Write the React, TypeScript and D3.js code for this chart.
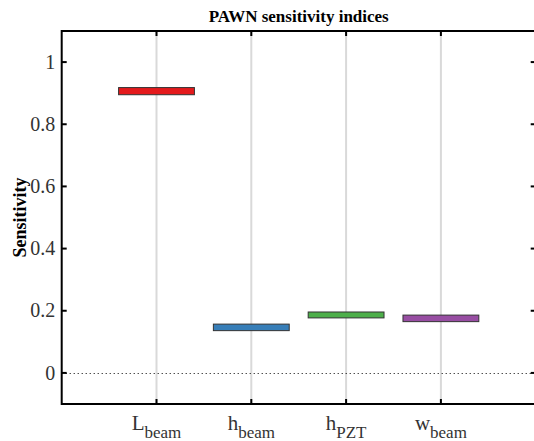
import React from "react";
import * as d3 from "d3";

const categories = ["L", "h", "h", "w"];
const subscripts = ["beam", "beam", "PZT", "beam"];
const lowValues = [0.895, 0.136, 0.177, 0.165];
const highValues = [0.918, 0.157, 0.196, 0.186];
const colors = ["#e41a1c", "#377eb8", "#4daf4a", "#984ea3"];
const yTicks = [0, 0.2, 0.4, 0.6, 0.8, 1];

const W = 534, H = 441;
const left = 61.7, right = 535.7, top = 31, bottom = 404;

export default function App() {
  const x = d3.scaleLinear().domain([0, 5]).range([left, right]);
  const y = d3.scaleLinear().domain([-0.1, 1.1]).range([bottom, top]);
  const font = "'Liberation Serif', 'Times New Roman', serif";
  const zeroY = Math.round(y(0)) + 0.5;
  return (
    <svg width={W} height={H} style={{ position: "absolute", left: 0, top: 0, background: "#fff" }}>
      <rect x={0} y={0} width={W} height={H} fill="#fff" />
      {categories.map((c, i) => (
        <line key={"g" + i} x1={x(i + 1)} x2={x(i + 1)} y1={top} y2={bottom} stroke="#d9d9d9" strokeWidth={2} />
      ))}
      <line x1={left} x2={right} y1={zeroY} y2={zeroY} stroke="#000" strokeWidth={1} strokeDasharray="1,3" />
      {categories.map((c, i) => (
        <rect key={"b" + i} x={x(i + 1 - 0.4)} width={x(0.8) - x(0)} y={y(highValues[i])}
          height={y(lowValues[i]) - y(highValues[i])} fill={colors[i]} stroke="#333" strokeWidth={1} />
      ))}
      <path d={`M${left},${top}H${right}V${bottom}H${left}Z`} fill="none" stroke="#000" strokeWidth={2} />
      {yTicks.map((t) => (
        <g key={"yt" + t}>
          <line x1={left} x2={left + 5} y1={y(t)} y2={y(t)} stroke="#000" strokeWidth={2} />
          <line x1={right} x2={right - 5} y1={y(t)} y2={y(t)} stroke="#000" strokeWidth={2} />
          <text x={left - 6.5} y={y(t)} dy="0.33em" textAnchor="end" fontFamily={font} fontSize={20} fill="#333">
            {d3.format("~g")(t)}
          </text>
        </g>
      ))}
      {categories.map((c, i) => (
        <g key={"xt" + i}>
          <line x1={x(i + 1)} x2={x(i + 1)} y1={bottom} y2={bottom - 5} stroke="#000" strokeWidth={2} />
          <line x1={x(i + 1)} x2={x(i + 1)} y1={top} y2={top + 5} stroke="#000" strokeWidth={2} />
          <text x={x(i + 1)} y={430} textAnchor="middle" fontFamily={font} fontSize={21} fill="#333">
            {c}
            <tspan dy={8} fontSize={17}>{subscripts[i]}</tspan>
          </text>
        </g>
      ))}
      <text x={(left + right) / 2} y={22} textAnchor="middle" fontFamily={font} fontSize={17} fontWeight="bold" fill="#000">
        PAWN sensitivity indices
      </text>
      <text transform={`translate(20,${(top + bottom) / 2}) rotate(-90)`} textAnchor="middle" dy="0.35em"
        fontFamily={font} fontSize={18} fontWeight="bold" fill="#000">
        Sensitivity
      </text>
    </svg>
  );
}
